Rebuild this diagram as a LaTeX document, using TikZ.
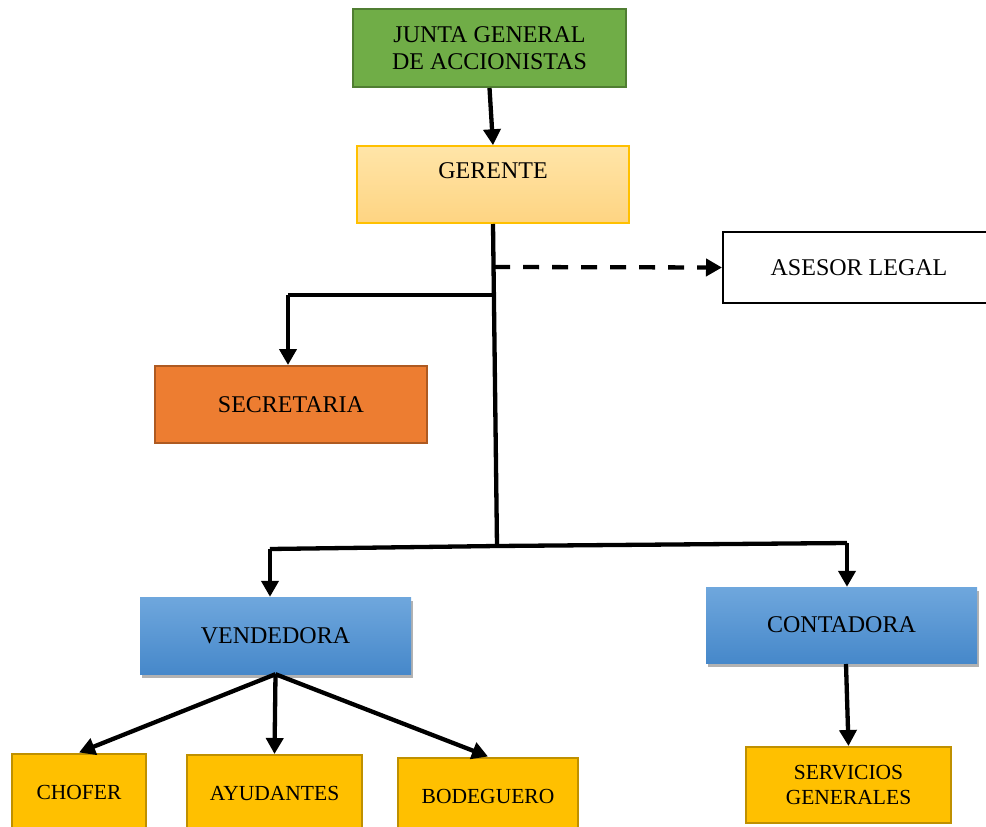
\documentclass[tikz,border=0pt]{standalone}
\usepackage{fontspec}
\setmainfont{Liberation Serif}
\usetikzlibrary{arrows.meta,shadows}
\definecolor{jgreen}{HTML}{70AD47}
\definecolor{jgreenb}{HTML}{507E32}
\definecolor{gtop}{HTML}{FFE5A8}
\definecolor{gbot}{HTML}{FED482}
\definecolor{gbord}{HTML}{FFC000}
\definecolor{sorange}{HTML}{ED7D31}
\definecolor{sorangeb}{HTML}{AE5A21}
\definecolor{btop}{HTML}{6FA7DD}
\definecolor{bbot}{HTML}{4688CA}
\definecolor{ygold}{HTML}{FFC000}
\definecolor{ygoldb}{HTML}{BF9000}
\tikzset{
  box/.style={rectangle, inner sep=0pt, align=center, font=\fontsize{24}{27}\selectfont},
  smallbox/.style={box, fill=ygold, draw=ygoldb, line width=2pt, font=\fontsize{21.5}{25}\selectfont},
  bluebox/.style={box, top color=btop, bottom color=bbot, drop shadow={shadow xshift=2pt, shadow yshift=-4pt, fill=black, opacity=0.3}},
  conn/.style={line width=4.3pt, black},
  arr/.style={conn, -{Triangle[length=16pt,width=17pt]}},
}
\begin{document}
\begin{tikzpicture}[x=1pt,y=-1pt]
\useasboundingbox (0,0) rectangle (986,827);
\node[box, fill=jgreen, draw=jgreenb, line width=2pt, minimum width=273pt, minimum height=78pt] (junta) at (489.5,48) {JUNTA GENERAL\\DE ACCIONISTAS};
\node[box, top color=gtop, bottom color=gbot, draw=gbord, line width=1.5pt, minimum width=272pt, minimum height=77pt] (gerente) at (493,184.5) {GERENTE\\\mbox{}};
\node[box, fill=white, draw=black, line width=2pt, minimum width=272pt, minimum height=71pt] (asesor) at (859,267.5) {ASESOR LEGAL};
\node[box, fill=sorange, draw=sorangeb, line width=2pt, minimum width=272pt, minimum height=77pt] (secretaria) at (291,404.5) {SECRETARIA};
\node[bluebox, minimum width=271pt, minimum height=77pt] (vendedora) at (275.5,635.5) {VENDEDORA};
\node[bluebox, minimum width=271pt, minimum height=76pt] (contadora) at (841.5,625) {CONTADORA};
\node[smallbox, minimum width=205pt, minimum height=76pt] (servicios) at (848.5,785) {SERVICIOS\\GENERALES};
\node[smallbox, minimum width=134pt, minimum height=77pt] (chofer) at (79,792) {CHOFER};
\node[smallbox, minimum width=175pt, minimum height=77pt] (ayudantes) at (274.5,793.5) {AYUDANTES};
\node[smallbox, minimum width=180pt, minimum height=77pt] (bodeguero) at (488,796) {BODEGUERO};

\coordinate (gs) at (493,224);
\coordinate (dj) at (494,267);
\coordinate (sj) at (494,295);
\coordinate (trunk) at (497,546);
\coordinate (vl) at (270,549);
\coordinate (cr) at (847,543);
\coordinate (sl) at (288,295);
\coordinate (cs) at (846,664);

\draw[arr] (junta.south) -- (gerente.north);
\draw[conn] (gs) -- (trunk);
\draw[arr, dash pattern=on 16pt off 13pt] (dj) -- (asesor.west);
\draw[conn] (sj) -- (sl);
\draw[arr] (sl) -- (secretaria.north -| sl);
\draw[conn] (vl) -- (trunk) -- (cr);
\draw[arr] (vl) -- (vendedora.north -| vl);
\draw[arr] (cr) -- (contadora.north -| cr);
\draw[arr] (vendedora.south) -- (chofer.north);
\draw[arr] (vendedora.south) -- (ayudantes.north);
\draw[arr] (vendedora.south) -- (bodeguero.north);
\draw[arr] (cs) -- (servicios.north);
\end{tikzpicture}
\end{document}
